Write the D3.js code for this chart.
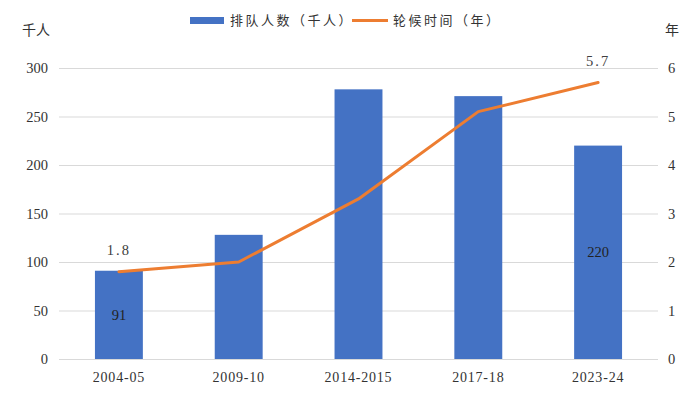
<!DOCTYPE html>
<html><head><meta charset="utf-8">
<script src="https://cdn.jsdelivr.net/npm/d3@7"></script>
<style>body{margin:0;background:#fff}svg{display:block}</style>
</head><body><svg id="c" width="688" height="398"></svg>
<script>
const categories = ["2004-05","2009-10","2014-2015","2017-18","2023-24"];
const queueThousands = [91,128,278,271,220];
const waitYears = [1.8,2.0,3.3,5.1,5.7];
const leftTicks = [0,50,100,150,200,250,300];
const rightTicks = [0,1,2,3,4,5,6];
const barLabelIdx = [0,4];
const lineLabelIdx = [0,4];

const svg = d3.select("#c");
const L = 59, R = 658, T = 68, B = 359;
const serif = "'Liberation Serif','DejaVu Serif',serif";
const cjk = "'Noto Sans CJK SC','Noto Sans',sans-serif";

const x = d3.scaleBand().domain(categories).range([L,R]).paddingInner(0.6).paddingOuter(0.3);
const yL = d3.scaleLinear().domain([0,300]).range([B,T]);
const yR = d3.scaleLinear().domain([0,6]).range([B,T]);

svg.append("g").selectAll("line").data(leftTicks).join("line")
  .attr("x1",L).attr("x2",R).attr("y1",d=>yL(d)+0.5).attr("y2",d=>yL(d)+0.5)
  .attr("stroke","#d9d9d9").attr("stroke-width",1);

const la = svg.append("g").attr("transform",`translate(${L},0)`)
  .call(d3.axisLeft(yL).tickValues(leftTicks).tickSize(0).tickPadding(11));
la.select(".domain").remove();
la.selectAll("text").attr("font-family",serif).attr("font-size",14.5).attr("fill","#333");

const ra = svg.append("g").attr("transform",`translate(${R},0)`)
  .call(d3.axisRight(yR).tickValues(rightTicks).tickFormat(d3.format("d")).tickSize(0).tickPadding(10));
ra.select(".domain").remove();
ra.selectAll("text").attr("font-family",serif).attr("font-size",14.5).attr("fill","#333");

const xa = svg.append("g").attr("transform",`translate(0,${B})`)
  .call(d3.axisBottom(x).tickSize(0).tickPadding(13));
xa.select(".domain").remove();
xa.selectAll("text").attr("font-family",serif).attr("font-size",14).attr("fill","#333").attr("letter-spacing","0.8px");

svg.append("g").selectAll("rect").data(queueThousands).join("rect")
  .attr("x",(d,i)=>x(categories[i])).attr("width",x.bandwidth())
  .attr("y",d=>yL(d)).attr("height",d=>B-yL(d)).attr("fill","#4472C4");

svg.append("g").selectAll("text").data(barLabelIdx).join("text")
  .attr("x",i=>x(categories[i])+x.bandwidth()/2)
  .attr("y",i=>(yL(queueThousands[i])+B)/2)
  .attr("dy","0.35em").attr("text-anchor","middle")
  .attr("font-family",serif).attr("font-size",14.5).attr("fill","#222")
  .text(i=>queueThousands[i]);

const line = d3.line().x((d,i)=>x(categories[i])+x.bandwidth()/2).y(d=>yR(d));
svg.append("path").datum(waitYears).attr("d",line)
  .attr("fill","none").attr("stroke","#ED7D31").attr("stroke-width",3)
  .attr("stroke-linejoin","round").attr("stroke-linecap","round");

svg.append("g").selectAll("text").data(lineLabelIdx).join("text")
  .attr("x",i=>x(categories[i])+x.bandwidth()/2)
  .attr("y",i=>yR(waitYears[i])-17)
  .attr("text-anchor","middle")
  .attr("font-family",serif).attr("font-size",14.5).attr("fill","#404040")
  .attr("letter-spacing","2px")
  .text(i=>waitYears[i].toFixed(1));

svg.append("text").attr("x",36).attr("y",35).attr("text-anchor","middle")
  .attr("font-family",cjk).attr("font-size",14).attr("fill","#333").text("千人");
svg.append("text").attr("x",672).attr("y",35).attr("text-anchor","middle")
  .attr("font-family",cjk).attr("font-size",14).attr("fill","#333").text("年");

const lg = svg.append("g");
lg.append("rect").attr("x",190).attr("y",17).attr("width",34).attr("height",7).attr("fill","#4472C4");
lg.append("text").attr("x",230).attr("y",25).attr("font-family",cjk).attr("font-size",13)
  .attr("fill","#333").attr("letter-spacing","2.5px").text("排队人数（千人）");
lg.append("line").attr("x1",352).attr("x2",388).attr("y1",20.5).attr("y2",20.5)
  .attr("stroke","#ED7D31").attr("stroke-width",3);
lg.append("text").attr("x",393).attr("y",25).attr("font-family",cjk).attr("font-size",13)
  .attr("fill","#333").attr("letter-spacing","2.5px").text("轮候时间（年）");
</script></body></html>
